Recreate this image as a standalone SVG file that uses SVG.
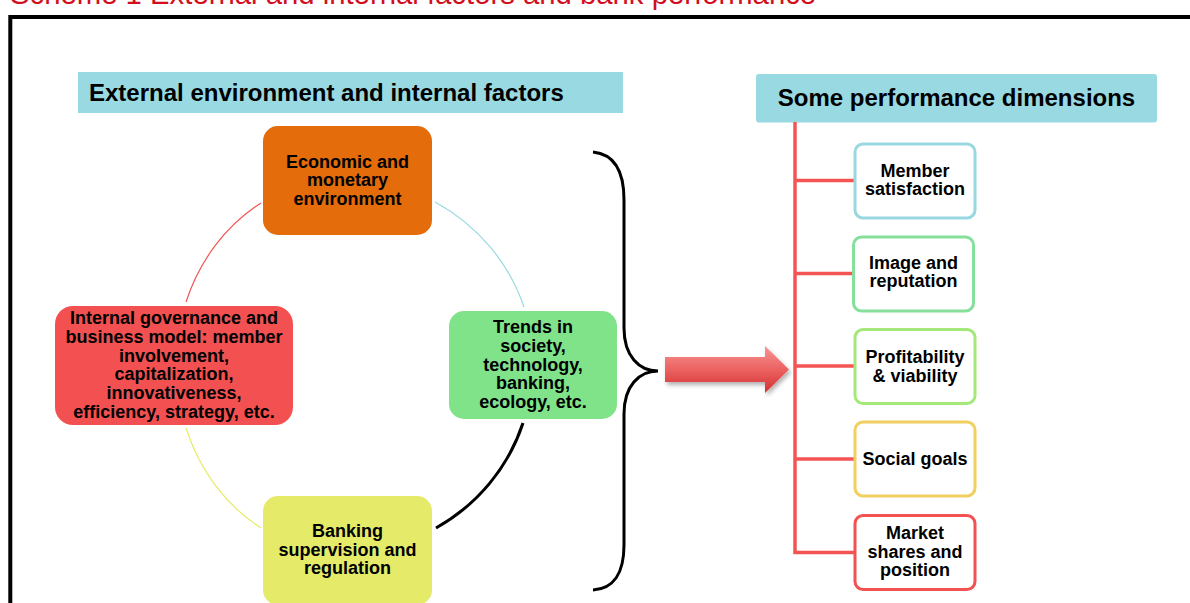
<svg xmlns="http://www.w3.org/2000/svg" width="1190" height="603" viewBox="0 0 1190 603">
  <defs>
    <style>
      .t { font-family: "Liberation Sans", Arial, sans-serif; font-weight: bold; fill: #000; text-anchor: middle; }
      .n18 { font-size: 18px; }
      .hd { font-family: "Liberation Sans", Arial, sans-serif; font-weight: bold; font-size: 24px; fill: #000; }
      .dim { fill: #ffffff; stroke-width: 3; }
      .arc { fill: none; stroke-width: 1.2; }
      .tree { fill: none; stroke: #f45454; stroke-width: 3.5; }
    </style>
    <linearGradient id="arrowGrad" x1="0" y1="0" x2="0" y2="1">
      <stop offset="0" stop-color="#f99595"/>
      <stop offset="0.5" stop-color="#ec6262"/>
      <stop offset="1" stop-color="#d42f2f"/>
    </linearGradient>
    <filter id="shadow" x="-10%" y="-20%" width="130%" height="160%">
      <feDropShadow dx="2" dy="3" stdDeviation="2" flood-color="#000" flood-opacity="0.3"/>
    </filter>
  </defs>

  <rect x="0" y="0" width="1190" height="603" fill="#ffffff"/>

  <!-- title (cut off at top, as in the reference) -->
  <text id="title" x="10" y="3.5" font-family="Liberation Sans, Arial, sans-serif" font-size="29.3" fill="#d10f1f">Scheme 1 External and internal factors and bank performance</text>

  <!-- frame -->
  <rect id="frame" x="10.3" y="17" width="1220" height="640" fill="none" stroke="#000" stroke-width="4"/>

  <!-- headers -->
  <g id="header-left">
    <rect x="78" y="72" width="545" height="41" fill="#99d9e1"/>
    <text class="hd" x="89" y="101">External environment and internal factors</text>
  </g>
  <g id="header-right">
    <rect x="756" y="74" width="401" height="48.5" rx="3" fill="#99d9e1"/>
    <text class="hd" x="956.5" y="105.5" text-anchor="middle">Some performance dimensions</text>
  </g>

  <!-- connectors -->
  <g id="connectors">
    <path class="arc" stroke="#f05555" d="M186,302 A171,187 0 0 1 261,203"/>
    <path class="arc" stroke="#99d9e1" d="M435,202 A193,187 0 0 1 524,307"/>
    <path fill="none" stroke="#000" stroke-width="3" d="M523,423 A193,187 0 0 1 436,528"/>
    <path class="arc" stroke="#e5eb69" d="M261,528 A171,187 0 0 1 186,428"/>
    <path id="brace" fill="none" stroke="#000" stroke-width="3" d="M593,152 C613,154 624,170 624,200 L624,328 C624,356 639,371 658,371 C639,371 624,386 624,414 L624,545 C624,574 613,589 593,590"/>
    <polygon id="arrow" points="665,357 765,357 765,346 789,369.5 765,393 765,382 665,382" fill="url(#arrowGrad)" filter="url(#shadow)"/>
    <path class="tree" d="M795,122 V552.5 H854"/>
    <path class="tree" d="M795,180.5 H854 M795,273.5 H852.5 M795,366 H854 M795,459 H854"/>
  </g>

  <!-- cycle nodes -->
  <g id="node-economic">
    <rect x="263" y="126" width="169" height="109" rx="15" fill="#e46c0a"/>
    <text class="t n18" x="347.5" y="167.5">Economic and</text>
    <text class="t n18" x="347.5" y="186">monetary</text>
    <text class="t n18" x="347.5" y="204.5">environment</text>
  </g>
  <g id="node-internal">
    <rect x="55" y="306" width="238" height="119" rx="18" fill="#f35151"/>
    <text class="t n18" x="174" y="324">Internal governance and</text>
    <text class="t n18" x="174" y="342.8">business model: member</text>
    <text class="t n18" x="174" y="361.6">involvement,</text>
    <text class="t n18" x="174" y="380.4">capitalization,</text>
    <text class="t n18" x="174" y="399.2">innovativeness,</text>
    <text class="t n18" x="174" y="418">efficiency, strategy, etc.</text>
  </g>
  <g id="node-trends">
    <rect x="449" y="311" width="168" height="108" rx="15" fill="#80e38a"/>
    <text class="t n18" x="533" y="333">Trends in</text>
    <text class="t n18" x="533" y="351.8">society,</text>
    <text class="t n18" x="533" y="370.6">technology,</text>
    <text class="t n18" x="533" y="389.4">banking,</text>
    <text class="t n18" x="533" y="408.2">ecology, etc.</text>
  </g>
  <g id="node-banking">
    <rect x="263" y="496" width="169" height="109" rx="15" fill="#e5eb69"/>
    <text class="t n18" x="347.5" y="537">Banking</text>
    <text class="t n18" x="347.5" y="555.5">supervision and</text>
    <text class="t n18" x="347.5" y="574">regulation</text>
  </g>

  <!-- performance dimension nodes -->
  <g id="node-member">
    <rect class="dim" x="855" y="144" width="120" height="74" rx="8" stroke="#9ad8e1"/>
    <text class="t n18" x="915" y="177">Member</text>
    <text class="t n18" x="915" y="195">satisfaction</text>
  </g>
  <g id="node-image">
    <rect class="dim" x="853.5" y="237" width="120" height="74" rx="8" stroke="#86e09b"/>
    <text class="t n18" x="913.5" y="269">Image and</text>
    <text class="t n18" x="913.5" y="287">reputation</text>
  </g>
  <g id="node-profitability">
    <rect class="dim" x="855" y="329.5" width="120" height="74" rx="8" stroke="#a5e87a"/>
    <text class="t n18" x="915" y="363">Profitability</text>
    <text class="t n18" x="915" y="381.5">&amp; viability</text>
  </g>
  <g id="node-social">
    <rect class="dim" x="855" y="422" width="120" height="74" rx="8" stroke="#efd060"/>
    <text class="t n18" x="915" y="465">Social goals</text>
  </g>
  <g id="node-market">
    <rect class="dim" x="855" y="515.5" width="120" height="74" rx="8" stroke="#f25252"/>
    <text class="t n18" x="915" y="539">Market</text>
    <text class="t n18" x="915" y="557.5">shares and</text>
    <text class="t n18" x="915" y="575.5">position</text>
  </g>
</svg>
